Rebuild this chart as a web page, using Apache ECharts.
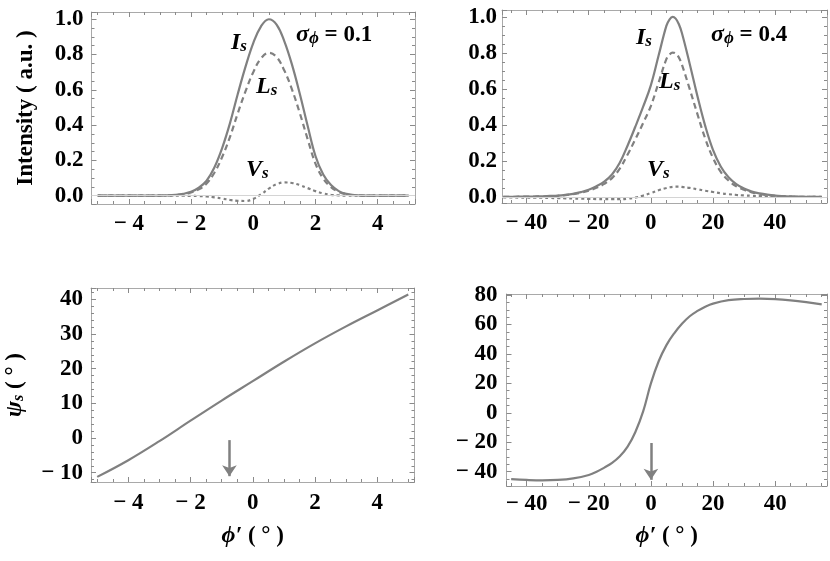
<!DOCTYPE html>
<html>
<head>
<meta charset="utf-8">
<script src="https://cdn.jsdelivr.net/npm/echarts@6/dist/echarts.min.js"></script>
<style>
  html, body { margin: 0; padding: 0; background: #fff; }
  #main { width: 830px; height: 561px; }
</style>
</head>
<body>
<div id="main"></div>
<script>
// 上排左：sigma = 0.1
var phiA = [-5, -4.75, -4.5, -4.25, -4, -3.75, -3.5, -3.25, -3, -2.75, -2.5, -2.25, -2, -1.75, -1.5, -1.25, -1, -0.75, -0.5, -0.25,
  0, 0.25, 0.5, 0.75, 1, 1.25, 1.5, 1.75, 2, 2.25, 2.5, 2.75, 3, 3.25, 3.5, 3.75, 4, 4.25, 4.5, 4.75, 5]
var isA = [0, 0, 0, 0, 0, 0, 0, 0, 0.001, 0.002, 0.005, 0.011, 0.022, 0.045, 0.085, 0.16, 0.27, 0.41, 0.575, 0.73,
  0.865, 0.96, 1.0, 0.97, 0.875, 0.74, 0.575, 0.395, 0.225, 0.12, 0.06, 0.026, 0.01, 0.004, 0.001, 0, 0, 0, 0, 0, 0]
var lsA = [0, 0, 0, 0, 0, 0, 0, 0, 0.001, 0.002, 0.004, 0.009, 0.018, 0.036, 0.069, 0.13, 0.219, 0.332, 0.466, 0.591,
  0.70, 0.778, 0.81, 0.786, 0.709, 0.60, 0.466, 0.32, 0.182, 0.097, 0.049, 0.021, 0.008, 0.003, 0.001, 0, 0, 0, 0, 0, 0]
var vsA = [0, 0, 0, 0, 0, 0, 0, 0, 0, 0, 0, 0, -0.001, -0.002, -0.004, -0.009, -0.016, -0.024, -0.029, -0.03,
  -0.018, 0.008, 0.04, 0.065, 0.075, 0.072, 0.06, 0.043, 0.026, 0.013, 0.005, 0.002, 0, 0, 0, 0, 0, 0, 0, 0, 0]

// 上排右：sigma = 0.4
var phiB = [-47.5, -45, -42.5, -40, -37.5, -35, -32.5, -30, -27.5, -25, -22.5, -20, -17.5, -15, -12.5, -10, -7.5, -5, -2.5,
  0, 2.5, 5, 6, 7, 8, 9, 10, 12.5, 15, 17.5, 20, 22.5, 25, 27.5, 30, 32.5, 35, 37.5, 40, 42.5, 45, 47.5, 50, 52.5, 55]
var isB = [0.001, 0.001, 0.002, 0.002, 0.003, 0.004, 0.006, 0.008, 0.012, 0.018, 0.027, 0.04, 0.06, 0.085, 0.125, 0.19, 0.285, 0.39, 0.5,
  0.62, 0.785, 0.95, 0.985, 1.0, 0.99, 0.96, 0.91, 0.74, 0.56, 0.395, 0.262, 0.17, 0.11, 0.072, 0.047, 0.03, 0.02, 0.013, 0.008, 0.005, 0.003, 0.002, 0.001, 0.001, 0.001]
var lsB = [0.001, 0.001, 0.002, 0.002, 0.003, 0.004, 0.005, 0.007, 0.011, 0.016, 0.024, 0.035, 0.052, 0.073, 0.105, 0.158, 0.235, 0.32, 0.41,
  0.505, 0.635, 0.765, 0.79, 0.802, 0.797, 0.775, 0.735, 0.6, 0.46, 0.325, 0.217, 0.14, 0.092, 0.06, 0.04, 0.026, 0.017, 0.011, 0.007, 0.004, 0.003, 0.002, 0.001, 0.001, 0]
var vsB = [-0.002, -0.002, -0.003, -0.003, -0.004, -0.004, -0.005, -0.006, -0.007, -0.008, -0.009, -0.01, -0.011, -0.012, -0.012, -0.012, -0.009, -0.003, 0.008,
  0.022, 0.038, 0.05, 0.054, 0.057, 0.058, 0.058, 0.056, 0.051, 0.043, 0.035, 0.028, 0.021, 0.016, 0.012, 0.009, 0.007, 0.005, 0.004, 0.003, 0.002, 0.002, 0.001, 0.001, 0.001, 0.001]

// 下排：偏振角 psi_s
var phiC = [-5, -4, -3, -2, -1, 0, 1, 2, 3, 4, 5]
var psiC = [-11.2, -6.4, -0.9, 5.0, 10.8, 16.4, 22.0, 27.3, 32.2, 36.8, 41.4]
var phiD = [-45, -40, -35, -30, -25, -20, -17.5, -15, -12.5, -10, -7.5, -5, -2.5, 0, 2.5, 5, 7.5, 10, 12.5, 15, 17.5, 20, 25, 30, 35, 40, 45, 50, 55]
var psiD = [-45.0, -45.6, -45.9, -45.6, -44.5, -42.2, -40.1, -37.2, -34, -29.5, -23, -13, 1, 20, 35, 46, 54, 60.5, 65.6, 69.2, 72.1, 74.2, 76.5, 77.3, 77.5, 77.2, 76.4, 75.2, 73.7]

// 箭头 [phi', 起点, 终点]
var arrowC = [-0.75, -0.6, -11.0]
var arrowD = [0, -20.5, -45.5]

var FONT = 'Liberation Serif'
var GRAY = '#808080'

var chart = echarts.init(document.getElementById('main'), null, { renderer: 'canvas' })

function zip (xs, ys) {
  return xs.map(function (x, i) { return [x, ys[i]] })
}

// 只显示 step 整数倍处的刻度文字
function tickText (step, digits) {
  return function (v) {
    var k = v / step
    if (Math.abs(k - Math.round(k)) > 1e-6) return ''
    var s = Math.abs(v).toFixed(digits)
    return v < -1e-9 ? '\u2212 ' + s : s
  }
}

function frameAxis (gi, min, max, split, minor, pos, label) {
  return {
    type: 'value',
    gridIndex: gi,
    position: pos,
    min: min,
    max: max,
    splitNumber: split,
    axisLine: { show: true, onZero: false, lineStyle: { color: '#a9a9a9', width: 1 } },
    axisTick: { show: true, inside: true, length: 5, lineStyle: { color: '#8a8a8a' } },
    minorTick: { show: true, splitNumber: minor, length: 3, lineStyle: { color: '#8a8a8a' } },
    splitLine: { show: false },
    axisLabel: label || { show: false }
  }
}

function labelStyle (step, digits, margin) {
  return {
    show: true,
    margin: margin,
    fontFamily: FONT,
    fontWeight: 'bold',
    fontSize: 23,
    color: '#000',
    formatter: tickText(step, digits)
  }
}

var nameStyle = {
  fontFamily: FONT,
  fontWeight: 'bold',
  fontSize: 23,
  color: '#000',
  rich: {
    it: { fontFamily: FONT, fontWeight: 'bold', fontStyle: 'italic', fontSize: 24, color: '#000' },
    sub: { fontFamily: FONT, fontWeight: 'bold', fontStyle: 'italic', fontSize: 16, color: '#000', padding: [8, 0, 0, 0] },
    n: { fontFamily: FONT, fontWeight: 'bold', fontSize: 23, color: '#000' }
  }
}

var xAxis = [
  frameAxis(0, -5.2, 5.2, 5, 4, 'bottom', labelStyle(2, 0, 9)),
  frameAxis(0, -5.2, 5.2, 5, 4, 'top'),
  frameAxis(1, -47.9, 56.7, 5, 4, 'bottom', labelStyle(20, 0, 9)),
  frameAxis(1, -47.9, 56.7, 5, 4, 'top'),
  frameAxis(2, -5.2, 5.2, 5, 4, 'bottom', labelStyle(2, 0, 10)),
  frameAxis(2, -5.2, 5.2, 5, 4, 'top'),
  frameAxis(3, -46.5, 56.7, 5, 4, 'bottom', labelStyle(20, 0, 7)),
  frameAxis(3, -46.5, 56.7, 5, 4, 'top')
]
xAxis[4].name = '{it|\u03d5\u2032}{n| ( \u00b0 )}'
xAxis[4].nameLocation = 'middle'
xAxis[4].nameGap = 42
xAxis[4].nameTextStyle = nameStyle
xAxis[6].name = '{it|\u03d5\u2032}{n| ( \u00b0 )}'
xAxis[6].nameLocation = 'middle'
xAxis[6].nameGap = 38
xAxis[6].nameTextStyle = nameStyle

var yAxis = [
  frameAxis(0, -0.047, 1.041, 5, 4, 'left', labelStyle(0.2, 1, 8)),
  frameAxis(0, -0.047, 1.041, 5, 4, 'right'),
  frameAxis(1, -0.033, 1.038, 5, 4, 'left', labelStyle(0.2, 1, 5)),
  frameAxis(1, -0.033, 1.038, 5, 4, 'right'),
  frameAxis(2, -12.68, 43.26, 5, 5, 'left', labelStyle(10, 0, 8)),
  frameAxis(2, -12.68, 43.26, 5, 5, 'right'),
  frameAxis(3, -49.7, 80.7, 6, 4, 'left', labelStyle(20, 0, 9)),
  frameAxis(3, -49.7, 80.7, 6, 4, 'right')
]
yAxis[0].name = 'Intensity ( a.u. )'
yAxis[0].nameLocation = 'middle'
yAxis[0].nameGap = 54
yAxis[0].nameTextStyle = nameStyle
yAxis[4].name = '{it|\u03c8}{sub|s}{n| ( \u00b0 )}'
yAxis[4].nameLocation = 'middle'
yAxis[4].nameGap = 64
yAxis[4].nameTextStyle = nameStyle

function curve (xi, yi, data, type) {
  return {
    type: 'line',
    xAxisIndex: xi,
    yAxisIndex: yi,
    data: data,
    showSymbol: false,
    smooth: 0.4,
    silent: true,
    lineStyle: { color: GRAY, width: 2.2, type: type },
    z: 3
  }
}

function zeroLine () {
  return {
    silent: true,
    symbol: 'none',
    label: { show: false },
    lineStyle: { color: '#d4d4d4', type: 'solid', width: 1 },
    data: [{ yAxis: 0 }]
  }
}

function arrowLine (a) {
  return {
    silent: true,
    symbol: ['none', 'arrow'],
    symbolSize: 11,
    label: { show: false },
    lineStyle: { color: GRAY, type: 'solid', width: 2.5 },
    data: [[{ coord: [a[0], a[1]] }, { coord: [a[0], a[2]] }]]
  }
}

var series = [
  curve(0, 0, zip(phiA, vsA), [3, 3]),
  curve(0, 0, zip(phiA, lsA), [6, 4]),
  curve(0, 0, zip(phiA, isA), 'solid'),
  curve(2, 2, zip(phiB, vsB), [3, 3]),
  curve(2, 2, zip(phiB, lsB), [6, 4]),
  curve(2, 2, zip(phiB, isB), 'solid'),
  curve(4, 4, zip(phiC, psiC), 'solid'),
  curve(6, 6, zip(phiD, psiD), 'solid')
]
series[0].markLine = zeroLine()
series[3].markLine = zeroLine()
series[6].markLine = arrowLine(arrowC)
series[7].markLine = arrowLine(arrowD)

// 曲线旁的标注
var richLab = {
  it: { fontFamily: FONT, fontWeight: 'bold', fontStyle: 'italic', fontSize: 24, fill: '#000' },
  sub: { fontFamily: FONT, fontWeight: 'bold', fontStyle: 'italic', fontSize: 17, fill: '#000', padding: [7, 0, 0, 0] },
  n: { fontFamily: FONT, fontWeight: 'bold', fontSize: 23, fill: '#000' }
}
function note (x, y, text) {
  return {
    type: 'text',
    x: x,
    y: y,
    silent: true,
    style: { text: text, rich: richLab, verticalAlign: 'middle', align: 'left' }
  }
}

var option = {
  animation: false,
  backgroundColor: '#fff',
  grid: [
    { left: 91.5, top: 12, width: 323.5, height: 192 },
    { left: 502, top: 10, width: 327, height: 193 },
    { left: 91, top: 288, width: 323.5, height: 194 },
    { left: 506.5, top: 294, width: 322.5, height: 192 }
  ],
  xAxis: xAxis,
  yAxis: yAxis,
  series: series,
  graphic: [
    note(231, 43, '{it|I}{sub|s}'),
    note(256, 87, '{it|L}{sub|s}'),
    note(246, 170, '{it|V}{sub|s}'),
    note(296, 35, '{it|\u03c3}{sub|\u03d5}{n| = 0.1}'),
    note(636, 38, '{it|I}{sub|s}'),
    note(659, 82, '{it|L}{sub|s}'),
    note(647, 170, '{it|V}{sub|s}'),
    note(711, 35, '{it|\u03c3}{sub|\u03d5}{n| = 0.4}')
  ]
}

chart.setOption(option)
</script>
</body>
</html>
